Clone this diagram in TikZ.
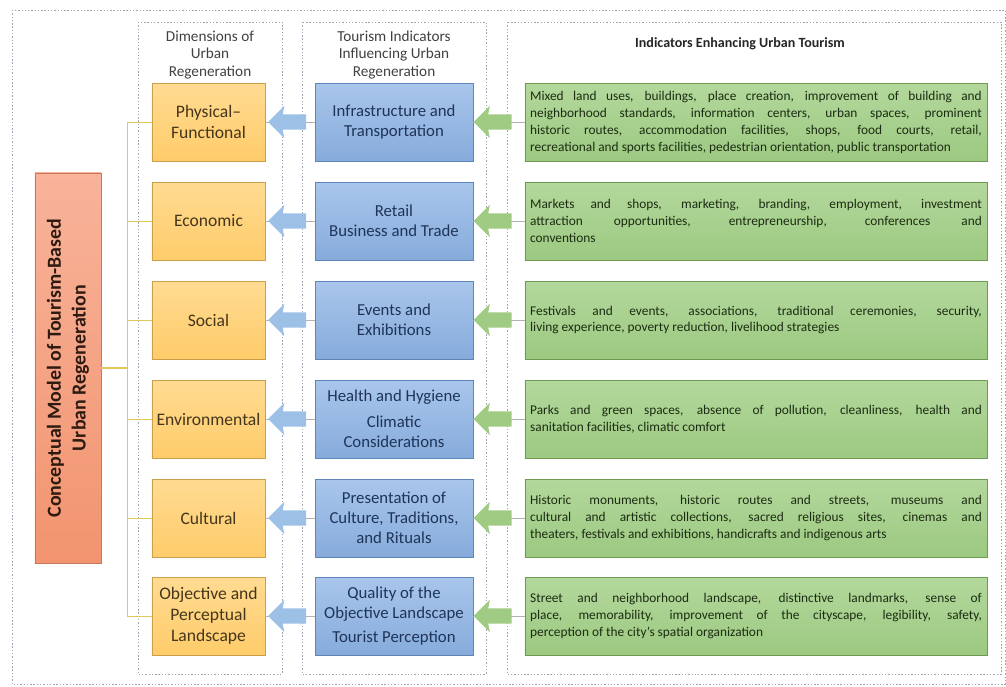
\documentclass[tikz,border=0pt]{standalone}
\usepackage{fontspec}
\setmainfont{Carlito}
\usetikzlibrary{shapes.arrows}

\definecolor{dimtop}{HTML}{FFDB92}
\definecolor{dimbot}{HTML}{FFCC6A}
\definecolor{dimdraw}{HTML}{C9A049}
\definecolor{dimtext}{HTML}{45361C}
\definecolor{indtop}{HTML}{A9C6EC}
\definecolor{indbot}{HTML}{86ABDB}
\definecolor{inddraw}{HTML}{5F86BA}
\definecolor{indtext}{HTML}{1F3458}
\definecolor{enhtop}{HTML}{B3D89C}
\definecolor{enhbot}{HTML}{9CC981}
\definecolor{enhdraw}{HTML}{6F9A52}
\definecolor{enhtext}{HTML}{1C2C12}
\definecolor{modtop}{HTML}{F8B39A}
\definecolor{modbot}{HTML}{F2946F}
\definecolor{moddraw}{HTML}{C9775A}
\definecolor{modtext}{HTML}{2E1A10}
\definecolor{treeline}{HTML}{E0C85A}
\definecolor{panelline}{HTML}{A4A4B4}
\definecolor{bluearr}{HTML}{9DC0E6}
\definecolor{greenarr}{HTML}{9FCB83}

\begin{document}
\begin{tikzpicture}[x=0.03cm,y=-0.03cm,
    panel/.style={draw=panelline, line width=0.7pt, dash pattern=on 1.2pt off 1.6pt},
    dimbox/.style={draw=dimdraw, top color=dimtop, bottom color=dimbot, line width=0.8pt,
        minimum width=3.39cm, minimum height=2.34cm, inner sep=1pt, align=center,
        text=dimtext, font=\fontsize{15}{18}\selectfont},
    indbox/.style={draw=inddraw, top color=indtop, bottom color=indbot, line width=0.8pt,
        minimum width=4.74cm, minimum height=2.34cm, inner sep=1pt, align=center,
        text=indtext, font=\fontsize{14.3}{17}\selectfont},
    enhbox/.style={draw=enhdraw, top color=enhtop, bottom color=enhbot, line width=0.8pt,
        minimum width=13.86cm, minimum height=2.34cm, text width=13.55cm, align=justify,
        text=enhtext, font=\fontsize{11.4}{14.5}\selectfont},
    headtext/.style={align=center, text=black!75, font=\fontsize{13}{15}\selectfont},
    bluearrow/.style={single arrow, shape border rotate=180, fill=bluearr, inner xsep=0pt,
        inner ysep=0.225cm, minimum height=1.14cm, single arrow head extend=0.255cm,
        single arrow head indent=0.05cm},
    greenarrow/.style={bluearrow, fill=greenarr},
    link/.style={draw=gray!60, line width=0.5pt},
    branch/.style={draw=treeline, line width=0.6pt}]

    \useasboundingbox (0,0) rectangle (1006,686);

    % dashed panels
    \draw[panel] (12,10) rectangle (1005,684);
    \draw[panel] (138,22) rectangle (282,674);
    \draw[panel] (302,22) rectangle (486,674);
    \draw[panel] (507,22) rectangle (1001,674);

    % headers
    \node[headtext] (dimhead) at (210,55) {Dimensions of\\Urban\\Regeneration};
    \node[headtext] (indhead) at (394,55) {Tourism Indicators\\Influencing Urban\\Regeneration};
    \node[font=\fontsize{12}{14}\selectfont\bfseries, text=black!85] (enhhead) at (740,44) {Indicators Enhancing Urban Tourism};

    % main box
    \node[draw=moddraw, top color=modtop, bottom color=modbot, line width=0.8pt, rotate=90,
        minimum width=11.7cm, minimum height=1.98cm, align=center, text=modtext,
        font=\fontsize{17}{21}\selectfont\bfseries] (model) at (68,368)
        {Conceptual Model of Tourism-Based\\Urban Regeneration};

    % dimensions
    \node[dimbox] (dim1) at (208.5,122) {Physical--\\Functional};
    \node[dimbox] (dim2) at (208.5,221) {Economic};
    \node[dimbox] (dim3) at (208.5,320) {Social};
    \node[dimbox] (dim4) at (208.5,419) {Environmental};
    \node[dimbox] (dim5) at (208.5,518) {Cultural};
    \node[dimbox] (dim6) at (208.5,616) {Objective and\\Perceptual\\Landscape};

    % tourism indicators
    \node[indbox] (ind1) at (394,122) {Infrastructure and\\Transportation};
    \node[indbox] (ind2) at (394,221) {Retail\\Business and Trade};
    \node[indbox] (ind3) at (394,320) {Events and\\Exhibitions};
    \node[indbox] (ind4) at (394,419) {Health and Hygiene\\[5pt]Climatic\\Considerations};
    \node[indbox] (ind5) at (394,518) {Presentation of\\Culture, Traditions,\\and Rituals};
    \node[indbox] (ind6) at (394,616) {Quality of the\\Objective Landscape\\[4pt]Tourist Perception};

    % enhancing indicators
    \node[enhbox] (enh1) at (756,122) {Mixed land uses, buildings, place creation, improvement of building and\linebreak
        neighborhood standards, information centers, urban spaces, prominent\linebreak
        historic routes, accommodation facilities, shops, food courts, retail,\linebreak
        recreational and sports facilities, pedestrian orientation, public transportation};
    \node[enhbox] (enh2) at (756,221) {Markets and shops, marketing, branding, employment, investment\linebreak
        attraction opportunities, entrepreneurship, conferences and\linebreak conventions};
    \node[enhbox] (enh3) at (756,320) {Festivals and events, associations, traditional ceremonies, security,\linebreak
        living experience, poverty reduction, livelihood strategies};
    \node[enhbox] (enh4) at (756,419) {Parks and green spaces, absence of pollution, cleanliness, health and\linebreak
        sanitation facilities, climatic comfort};
    \node[enhbox] (enh5) at (756,518) {Historic monuments, historic routes and streets, museums and\linebreak
        cultural and artistic collections, sacred religious sites, cinemas and\linebreak
        theaters, festivals and exhibitions, handicrafts and indigenous arts};
    \node[enhbox] (enh6) at (756,616) {Street and neighborhood landscape, distinctive landmarks, sense of\linebreak
        place, memorability, improvement of the cityscape, legibility, safety,\linebreak
        perception of the city's spatial organization};

    % tree from the main box
    \coordinate (trunk) at (127,368);
    \coordinate (br1) at (127,122);
    \coordinate (br6) at (127,616);
    \draw[branch] (br1) -- (br6);
    \draw[branch, line width=1.3pt] (model) -- (trunk);
    \foreach \i/\y in {1/122,2/221,3/320,4/419,5/518,6/616} {
        \coordinate (b\i) at (127,\y);
        \draw[branch] (b\i) -- (dim\i);
        \draw[link] (ind\i) -- (dim\i);
        \draw[link] (enh\i) -- (ind\i);
        \node[bluearrow] (ba\i) at (291,\y) {};
        \node[greenarrow] (ga\i) at (496.5,\y) {};
    }
\end{tikzpicture}
\end{document}
